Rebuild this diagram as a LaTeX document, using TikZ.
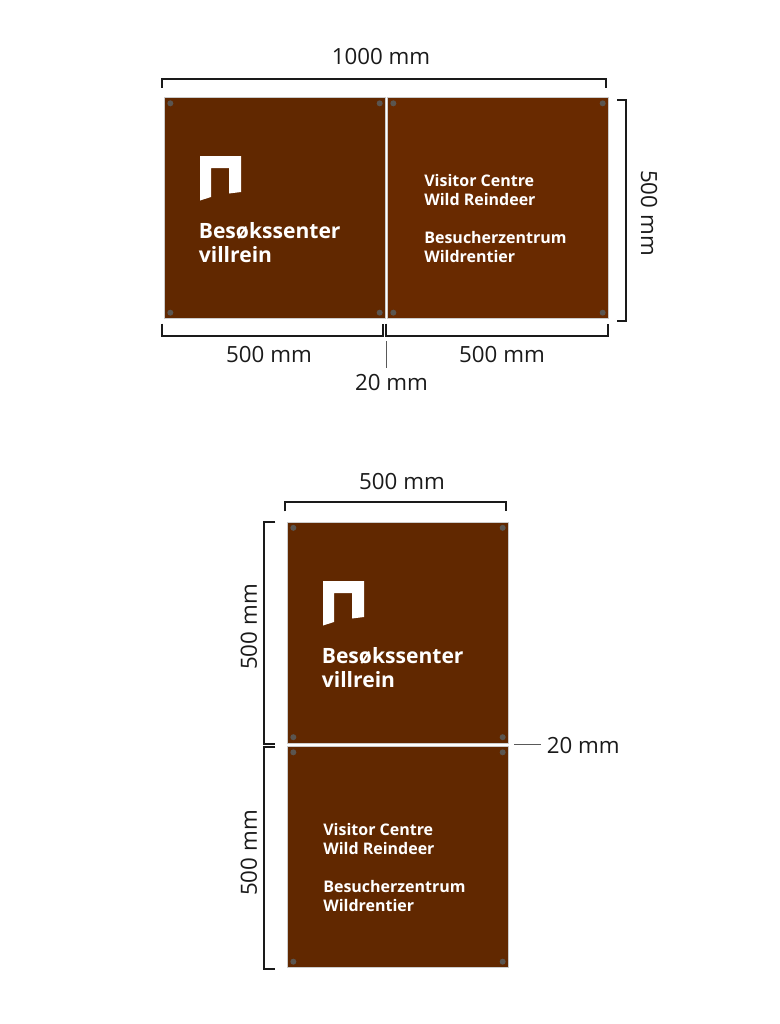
\documentclass[tikz,border=0pt]{standalone}
\usepackage{fontspec}
\setmainfont{Open Sans}
\definecolor{brownL}{HTML}{612800}
\definecolor{brownR}{HTML}{692A00}
\definecolor{boltgray}{HTML}{5A5550}
\definecolor{inkblack}{HTML}{1A1A1A}
\tikzset{
  panel/.style={draw=black!20, line width=0.2pt, inner sep=0, minimum width=221*0.02cm, minimum height=221*0.02cm},
  dim/.style={draw=inkblack, line width=1.1pt},
  leader/.style={draw=black!65, line width=0.5pt},
  dimtext/.style={text=inkblack, font=\fontsize{12.7}{14}\selectfont, inner sep=0},
  signbig/.style={text=white, font=\fontsize{12}{14}\selectfont\bfseries, anchor=base west, inner sep=0},
  signsmall/.style={text=white, font=\fontsize{9.1}{11}\selectfont\bfseries, anchor=base west, inner sep=0},
  bolt/.style={circle, fill=boltgray, inner sep=0, minimum size=6*0.02cm},
  logomark/.pic={\fill[white] (0,0) -- (41,0) -- (41,36) -- (29,37.5) -- (29,12) -- (11,12) -- (11,41) -- (0,44.5) -- cycle;}
}
\begin{document}
\begin{tikzpicture}[x=0.02cm, y=-0.02cm]
 \useasboundingbox (0,0) rectangle (780,1024);

 % panels
 \node[panel, fill=brownL] (pa) at (275,208) {};
 \node[panel, fill=brownR] (pb) at (498,208) {};
 \node[panel, fill=brownL] (pc) at (398,632.5) {};
 \node[panel, fill=brownL] (pd) at (398,857) {};

 % bolts
 \foreach \p in {pa,pb,pc,pd} {
   \node[bolt] (\p nw) at ([shift={(6,6)}]\p.north west) {};
   \node[bolt] (\p ne) at ([shift={(-6,6)}]\p.north east) {};
   \node[bolt] (\p sw) at ([shift={(6,-6)}]\p.south west) {};
   \node[bolt] (\p se) at ([shift={(-6,-6)}]\p.south east) {};
 }

 % logos
 \pic at (200,156) {logomark};
 \pic at (323,581) {logomark};

 % sign texts
 \foreach \i/\xx/\yy/\name in {1/198.5/238/Besøkssenter, 2/198.5/262/villrein, 3/321.5/663/Besøkssenter, 4/321.5/687/villrein}
   \node[signbig] (big\i) at (\xx,\yy) {\name};
 \foreach \i/\xx/\yy/\name in {1/424/186/Visitor Centre, 2/424/205/Wild Reindeer, 3/424/243/Besucherzentrum, 4/424/262/Wildrentier,
                               5/323/835/Visitor Centre, 6/323/854/Wild Reindeer, 7/323/892/Besucherzentrum, 8/323/911/Wildrentier}
   \node[signsmall] (small\i) at (\xx,\yy) {\name};

 % brackets top figure
 \draw[dim] ([shift={(-2.5,-9.5)}]pa.north west) |- ([shift={(-3,-18)}]pb.north east) -- ([shift={(-3,-9.5)}]pb.north east);
 \draw[dim] ([shift={(8.5,2.5)}]pb.north east) -| ([shift={(17.5,2.5)}]pb.south east) -- ([shift={(8.5,2.5)}]pb.south east);
 \draw[dim] ([shift={(-2,5)}]pa.south west) |- ([shift={(-3,17.5)}]pa.south east) -- ([shift={(-3,5)}]pa.south east);
 \draw[dim] ([shift={(-1,5)}]pb.south west) |- ([shift={(-0.5,17.5)}]pb.south east) -- ([shift={(-0.5,5)}]pb.south east);

 % brackets lower figure
 \draw[dim] ([shift={(-2.5,-10.5)}]pc.north west) |- ([shift={(-3,-19.5)}]pc.north east) -- ([shift={(-3,-10.5)}]pc.north east);
 \draw[dim] ([shift={(-12,0)}]pc.north west) -| ([shift={(-23.5,1)}]pc.south west) -- ([shift={(-12,1)}]pc.south west);
 \draw[dim] ([shift={(-12,1)}]pd.north west) -| ([shift={(-23.5,1)}]pd.south west) -- ([shift={(-12,1)}]pd.south west);

 % labels
 \node[dimtext] (lbla) at (381,57) {1000 mm};
 \node[dimtext, rotate=-90] (lblb) at (649,213) {500 mm};
 \node[dimtext] (lblc) at (269,355) {500 mm};
 \node[dimtext] (lbld) at (502,355) {500 mm};
 \node[dimtext] (lble) at (391.5,383) {20 mm};
 \node[dimtext] (lblf) at (402,482) {500 mm};
 \node[dimtext, rotate=90] (lblg) at (249,627) {500 mm};
 \node[dimtext, rotate=90] (lblh) at (249,853) {500 mm};
 \node[dimtext, anchor=west] (lbli) at (546.5,746) {20 mm};

 % leaders
 \coordinate (gapa) at (386.5,341);
 \coordinate (gapc) at (386.5,368);
 \coordinate (gapb) at (514,744);
 \coordinate (gapd) at (541,744);
 \draw[leader] (gapa) -- (gapc);
 \draw[leader] (gapb) -- (gapd);
\end{tikzpicture}
\end{document}
